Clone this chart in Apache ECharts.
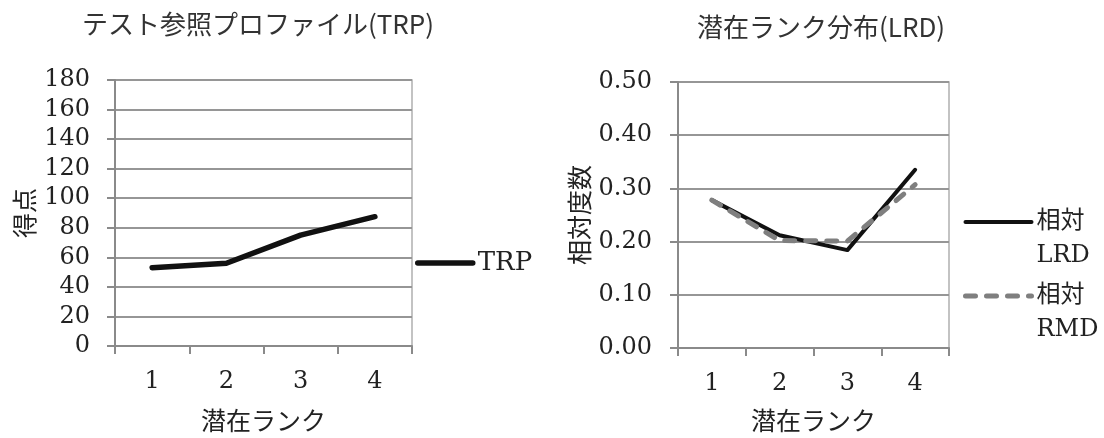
<!DOCTYPE html>
<html>
<head>
<meta charset="utf-8">
<script src="https://cdn.jsdelivr.net/npm/echarts@6/dist/echarts.min.js"></script>
<style>
html,body{margin:0;padding:0;background:#fff;}
#c{width:1104px;height:438px;}
</style>
</head>
<body>
<div id="c"></div>
<script>
// ---- data ----
const categories = ['1', '2', '3', '4'];
const trpValues = [53, 56, 75, 87.5];
const lrdValues = [0.278, 0.212, 0.184, 0.335];
const rmdValues = [0.278, 0.202, 0.201, 0.307];
const leftTitle = 'テスト参照プロファイル(TRP)';
const rightTitle = '潜在ランク分布(LRD)';
const xName = '潜在ランク';
const leftYName = '得点';
const rightYName = '相対度数';
const trpName = 'TRP';
const lrdName = '相対LRD';
const rmdName = '相対RMD';

const SERIF = "'DejaVu Serif', 'Noto Sans CJK JP', serif";
const SANS = "'Noto Sans CJK JP', sans-serif";
const TXT = '#222';
const GRIDC = '#969696';
const AXISC = '#8a8a8a';

function xAxisCfg(gridIndex, gap) {
  return {
    type: 'category', gridIndex: gridIndex, data: categories,
    boundaryGap: true,
    name: xName, nameLocation: 'middle', nameGap: gap,
    nameTextStyle: {fontFamily: SANS, fontSize: 25, color: TXT},
    axisLine: {show: true, lineStyle: {color: AXISC, width: 2}},
    axisTick: {show: true, length: 8, alignWithLabel: false, lineStyle: {color: AXISC, width: 2}},
    axisLabel: {fontFamily: SERIF, fontSize: 24, color: TXT, margin: 24},
    splitLine: {show: false}
  };
}
function yAxisCfg(gridIndex, max, interval, name, gap, fmt, margin) {
  return {
    type: 'value', gridIndex: gridIndex, min: 0, max: max, interval: interval,
    name: name, nameLocation: 'middle', nameGap: gap, nameRotate: 90,
    nameTextStyle: {fontFamily: SANS, fontSize: 25, color: TXT},
    axisLine: {show: true, lineStyle: {color: AXISC, width: 2}},
    axisTick: {show: true, length: 8, lineStyle: {color: AXISC, width: 2}},
    axisLabel: {fontFamily: SERIF, fontSize: 24, color: TXT, margin: margin, formatter: fmt},
    splitLine: {show: true, lineStyle: {color: GRIDC, width: 2}}
  };
}

const chart = echarts.init(document.getElementById('c'), null, {renderer: 'canvas'});
chart.setOption({
  animation: false,
  backgroundColor: '#fff',
  title: [
    {text: leftTitle, left: 82, top: 11, padding: 0,
     textStyle: {fontFamily: SANS, fontSize: 26, fontWeight: 'normal', color: '#333'}},
    {text: rightTitle, left: 697, top: 14, padding: 0,
     textStyle: {fontFamily: SANS, fontSize: 26, fontWeight: 'normal', color: '#333'}}
  ],
  grid: [
    {left: 115, top: 80, width: 297, height: 266, show: true, borderColor: '#b0b0b0', borderWidth: 1.5, containLabel: false},
    {left: 678, top: 82, width: 271, height: 267, show: true, borderColor: '#b0b0b0', borderWidth: 1.5, containLabel: false}
  ],
  xAxis: [xAxisCfg(0, 62), xAxisCfg(1, 60)],
  yAxis: [
    yAxisCfg(0, 180, 20, leftYName, 78, v => String(v), 25),
    yAxisCfg(1, 0.5, 0.1, rightYName, 86, v => v.toFixed(2), 26)
  ],
  legend: [
    {data: [trpName], orient: 'vertical', left: 415, top: 248, padding: 0,
     itemWidth: 55, itemHeight: 14, itemGap: 0,
     itemStyle: {opacity: 0},
     lineStyle: {width: 'inherit', type: 'inherit', cap: 'round'},
     textStyle: {fontFamily: SERIF, fontSize: 26, color: TXT, lineHeight: 30}},
    {data: [lrdName, rmdName], orient: 'vertical', left: 963, top: 171, padding: 0,
     itemWidth: 66, itemHeight: 14, itemGap: -28,
     itemStyle: {opacity: 0},
     lineStyle: {width: 'inherit', type: 'inherit', cap: 'round'},
     formatter: n => '{s| }\n{t|' + n.slice(0, 2) + '}\n{t|' + n.slice(2) + '}',
     textStyle: {fontFamily: SERIF, fontSize: 24, color: TXT, lineHeight: 34,
       rich: {
         s: {fontSize: 24, lineHeight: 34},
         t: {fontFamily: SERIF, fontSize: 24, color: TXT, lineHeight: 34}
       }}}
  ],
  series: [
    {name: trpName, type: 'line', xAxisIndex: 0, yAxisIndex: 0, data: trpValues,
     symbol: 'none', lineStyle: {color: '#111', width: 5.5, cap: 'round', join: 'round'}, itemStyle: {color: '#111'}},
    {name: lrdName, type: 'line', xAxisIndex: 1, yAxisIndex: 1, data: lrdValues,
     symbol: 'none', lineStyle: {color: '#111', width: 4, cap: 'round', join: 'round'}, itemStyle: {color: '#111'}},
    {name: rmdName, type: 'line', xAxisIndex: 1, yAxisIndex: 1, data: rmdValues,
     symbol: 'none', lineStyle: {color: '#7f7f7f', width: 5, type: [10, 11], cap: 'round', join: 'round'}, itemStyle: {color: '#7f7f7f'}}
  ]
});
</script>
</body>
</html>
